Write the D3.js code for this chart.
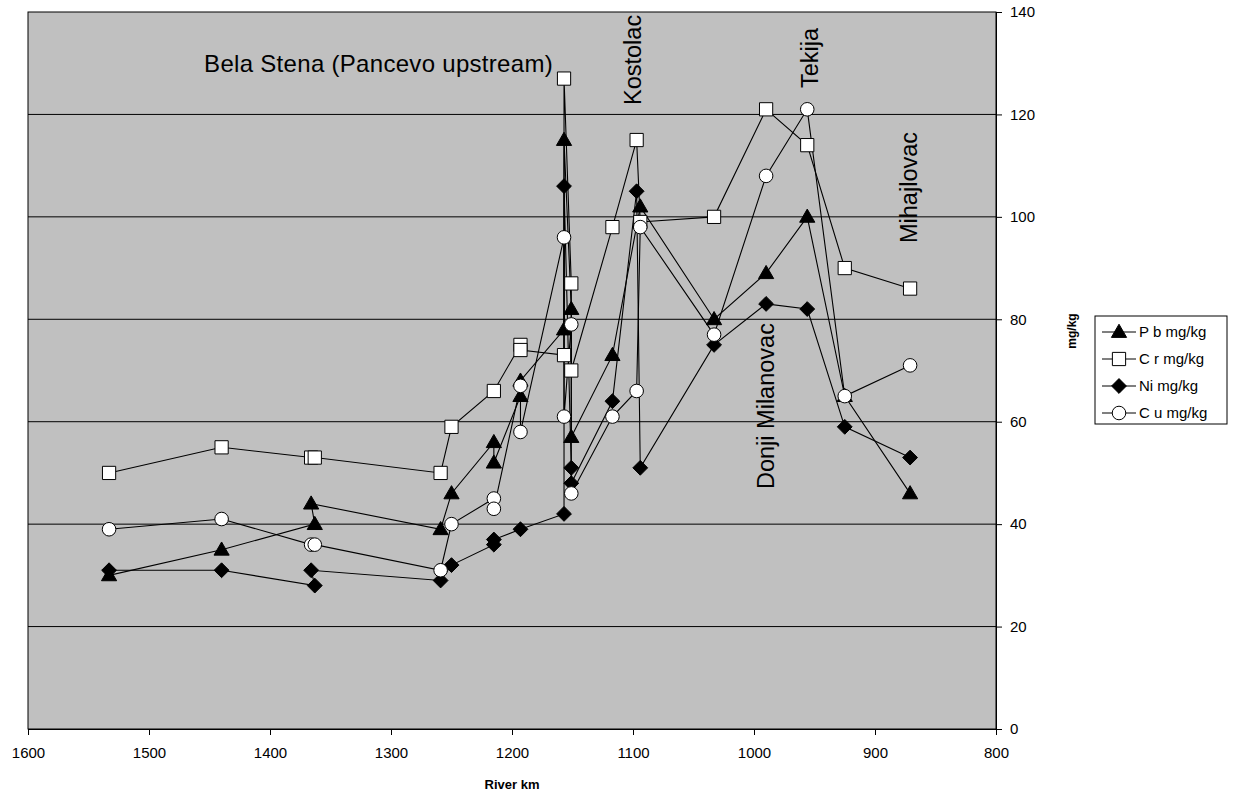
<!DOCTYPE html>
<html><head><meta charset="utf-8">
<script src="https://cdnjs.cloudflare.com/ajax/libs/d3/7.8.5/d3.min.js"></script>
<style>body{margin:0;background:#fff;} text{font-family:"Liberation Sans",Arial,sans-serif;}</style>
</head><body><svg id="c" width="1237" height="798"></svg>
<script>
// Data: river km and concentration (mg/kg), in drawing order
const pbKm  = [1533,1440,1363,1366,1259,1250,1215,1215,1193,1193,1157,1157,1151,1151,1117,1094,1033,990,956,925,871];
const pbVal = [30,35,40,44,39,46,56,52,65,68,78,115,82,57,73,102,80,89,100,65,46];
const crKm  = [1533,1440,1366,1363,1259,1250,1215,1193,1193,1157,1157,1151,1151,1117,1097,1094,1033,990,956,925,871];
const crVal = [50,55,53,53,50,59,66,75,74,73,127,87,70,98,115,99,100,121,114,90,86];
const niKm  = [1533,1440,1363,1366,1259,1250,1215,1215,1193,1157,1157,1151,1151,1117,1097,1094,1033,990,956,925,871];
const niVal = [31,31,28,31,29,32,36,37,39,42,106,51,48,64,105,51,75,83,82,59,53];
const cuKm  = [1533,1440,1366,1363,1259,1250,1215,1215,1193,1193,1157,1157,1151,1151,1117,1097,1094,1033,990,956,925,871];
const cuVal = [39,41,36,36,31,40,45,43,67,58,96,61,79,46,61,66,98,77,108,121,65,71];
const seriesNames = ["P b mg/kg","C r mg/kg","Ni mg/kg","C u mg/kg"];
const xTicks = [1600,1500,1400,1300,1200,1100,1000,900,800];
const yTicks = [0,20,40,60,80,100,120,140];
const siteNames = ["Bela Stena (Pancevo upstream)","Kostolac","Tekija","Mihajlovac","Donji Milanovac"];

const svg = d3.select("#c");
const L=28, R=996, T=12, B=729;
const x = d3.scaleLinear().domain([1600,800]).range([L,R]);
const y = d3.scaleLinear().domain([0,140]).range([B,T]);

svg.append("rect").attr("x",L).attr("y",T).attr("width",R-L).attr("height",B-T).attr("fill","#c0c0c0");
svg.append("g").selectAll("line").data(yTicks.filter(t=>t>0&&t<140)).join("line")
  .attr("x1",L).attr("x2",R).attr("y1",d=>y(d)).attr("y2",d=>y(d)).attr("stroke","#000").attr("stroke-width",1);
svg.append("rect").attr("x",L).attr("y",T).attr("width",R-L).attr("height",B-T).attr("fill","none").attr("stroke","#000").attr("stroke-width",1);

// axes
const xa = svg.append("g").attr("transform",`translate(0,${B})`)
  .call(d3.axisBottom(x).tickValues(xTicks).tickSize(6).tickPadding(12).tickFormat(d3.format("d")));
xa.select(".domain").attr("stroke","#000");
xa.selectAll("text").attr("font-size",15).attr("fill","#000").attr("font-family","Liberation Sans, Arial");
const ya = svg.append("g").attr("transform",`translate(${R},0)`)
  .call(d3.axisRight(y).tickValues(yTicks).tickSize(6).tickPadding(8).tickFormat(d3.format("d")));
ya.select(".domain").attr("stroke","#000");
ya.selectAll("text").attr("font-size",15).attr("fill","#000").attr("font-family","Liberation Sans, Arial");

svg.append("text").attr("x",(L+R)/2).attr("y",789).attr("text-anchor","middle")
  .attr("font-size",13).attr("font-weight","bold").text("River km");
svg.append("text").attr("transform",`translate(1076,331) rotate(-90)`).attr("text-anchor","middle")
  .attr("font-size",12).attr("font-weight","bold").text("mg/kg");

// site labels
svg.append("text").attr("x",553).attr("y",72).attr("text-anchor","end")
  .attr("font-size",24).attr("letter-spacing",0.3).attr("fill","#000").text(siteNames[0]);
const rotPos = [[641,105],[818,88],[917,243],[774,489]];
siteNames.slice(1).forEach((n,i)=>{
  const p=rotPos[i];
  svg.append("text").attr("transform",`translate(${p[0]},${p[1]}) rotate(-90)`)
    .attr("font-size",23.5).attr("fill","#000").text(n);
});

// markers
const diamond = {draw(ctx,size){const r=Math.sqrt(size/2);ctx.moveTo(0,-r);ctx.lineTo(r,0);ctx.lineTo(0,r);ctx.lineTo(-r,0);ctx.closePath();}};
const sym = [
  d3.symbol().type(d3.symbolTriangle).size(100),
  d3.symbol().type(d3.symbolSquare).size(175),
  d3.symbol().type(diamond).size(110),
  d3.symbol().type(d3.symbolCircle).size(145)
];
const fills=["#000","#fff","#000","#fff"];
const series = [
  pbKm.map((k,i)=>[k,pbVal[i]]),
  crKm.map((k,i)=>[k,crVal[i]]),
  niKm.map((k,i)=>[k,niVal[i]]),
  cuKm.map((k,i)=>[k,cuVal[i]])
];
const line = d3.line().x(d=>x(d[0])).y(d=>y(d[1]));
series.forEach((s,i)=>{
  svg.append("path").datum(s).attr("d",line).attr("fill","none").attr("stroke","#000").attr("stroke-width",1.1);
});
series.forEach((s,i)=>{
  svg.append("g").selectAll("path").data(s).join("path")
    .attr("transform",d=>`translate(${x(d[0])},${y(d[1])+(i===0?1:0)})`)
    .attr("d",sym[i]()).attr("fill",fills[i]).attr("stroke","#000").attr("stroke-width",1);
});

// legend
const lg = svg.append("g");
lg.append("rect").attr("x",1095).attr("y",316).attr("width",132).attr("height",108).attr("fill","#fff").attr("stroke","#000");
seriesNames.forEach((n,i)=>{
  const yy=332+i*27;
  lg.append("line").attr("x1",1102).attr("x2",1136).attr("y1",yy).attr("y2",yy).attr("stroke","#000");
  lg.append("path").attr("transform",`translate(1119,${yy+(i===0?1:0)})`).attr("d",sym[i]()).attr("fill",fills[i]).attr("stroke","#000");
  lg.append("text").attr("x",1139).attr("y",yy+5).attr("font-size",15).text(n);
});
</script></body></html>
